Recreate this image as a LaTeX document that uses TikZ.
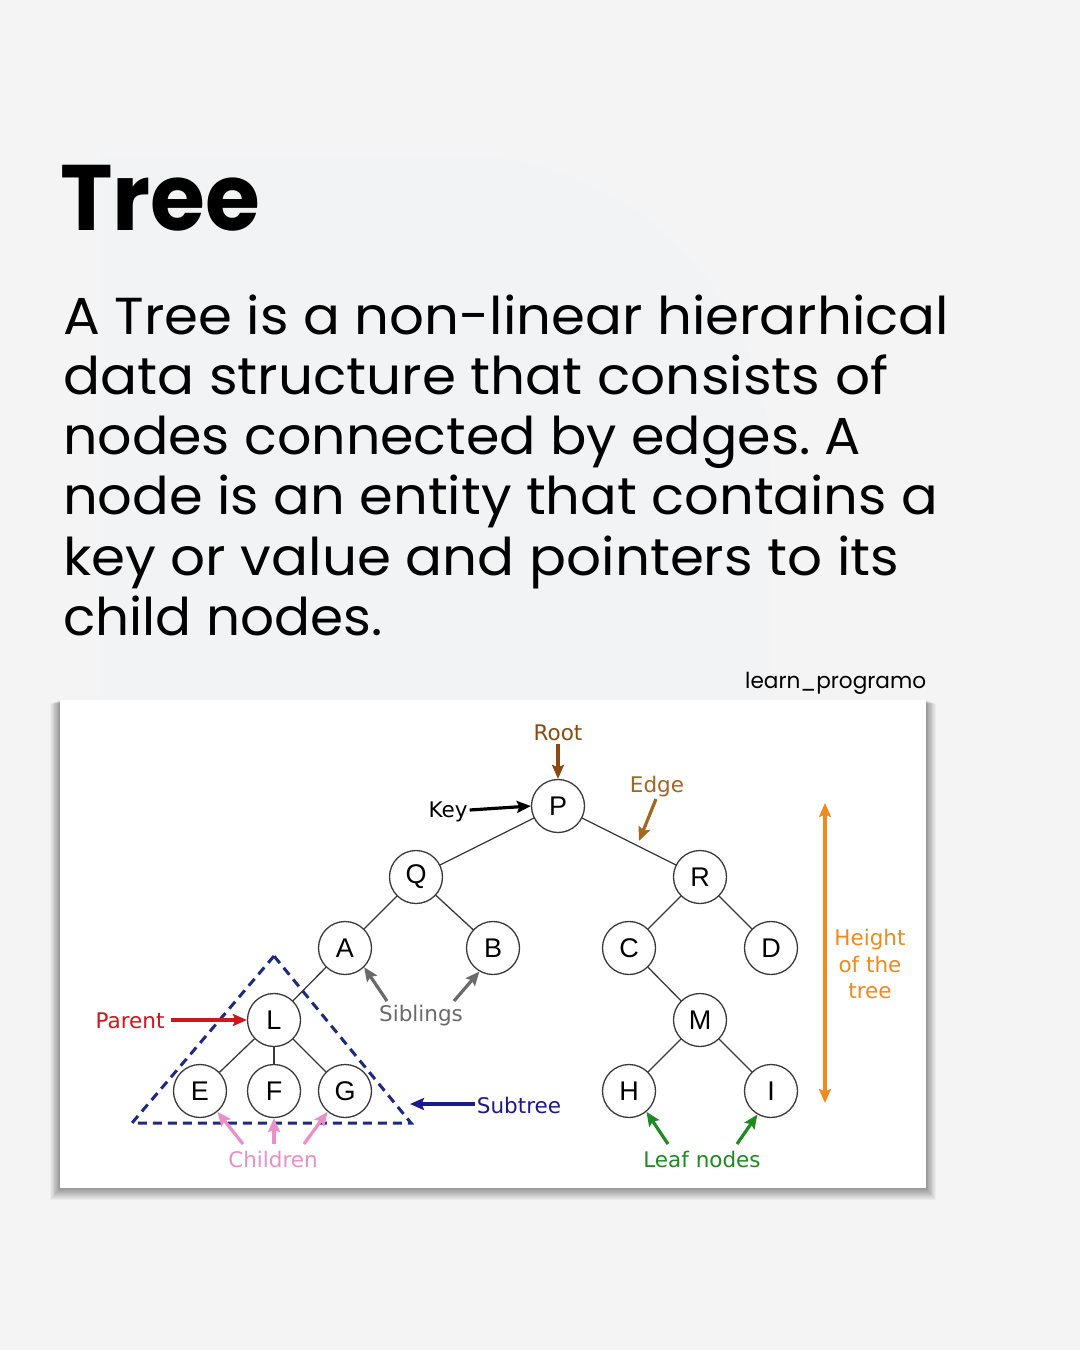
\documentclass[tikz,border=0pt]{standalone}
\usepackage{fontspec}
\setmainfont{Poppins}
\newfontfamily\lblfont{DejaVu Sans}
\newfontfamily\keyfont{Liberation Sans}
\usetikzlibrary{arrows.meta}
\definecolor{bgc}{HTML}{F4F4F4}
\definecolor{wmc}{HTML}{F2F3F5}
\definecolor{rootc}{HTML}{8B4A12}
\definecolor{edgec}{HTML}{A4651F}
\definecolor{heightc}{HTML}{EE8A1E}
\definecolor{parentc}{HTML}{D0161C}
\definecolor{subc}{HTML}{1A1A8E}
\definecolor{triac}{HTML}{1E2A80}
\definecolor{childc}{HTML}{EB8FC8}
\definecolor{leafc}{HTML}{1F8A22}
\definecolor{sibc}{HTML}{6A6A6A}
\definecolor{linec}{HTML}{3A3A3A}
\newlength\fitlen
\newcommand\fitto[2]{\settowidth\fitlen{#2}\pgfmathsetmacro\fitfac{#1/\fitlen}\scalebox{\fitfac}[1]{#2}}
\frenchspacing
\begin{document}
\begin{tikzpicture}[x=1pt,y=-1pt,
  tnode/.style={circle,draw=linec,line width=1.3pt,fill=white,minimum size=53pt,inner sep=0pt,font=\keyfont\fontsize{27}{27}\selectfont},
  tedge/.style={draw=linec,line width=1.3pt},
  lbl/.style={inner sep=0pt,font=\lblfont\fontsize{21.5}{26}\selectfont},
  arr/.style={line width=3.2pt,-{Stealth[length=14pt,width=12pt,inset=2.5pt]}},
  bodyline/.style={anchor=base west,inner sep=0pt,font=\fontsize{52}{60}\selectfont}]
\useasboundingbox (0,0) rectangle (1080,1350);
\fill[bgc] (0,0) rectangle (1080,1350);
% faint watermark
\fill[wmc] (100,155) -- (450,155) .. controls (640,155) and (770,300) .. (770,470) -- (770,700) -- (100,700) -- cycle;
% title and body
\node[anchor=base west,inner sep=0pt,font=\bfseries\fontsize{93}{93}\selectfont] (title) at (60,230) {\fitto{200}{Tree}};
\node[bodyline] (b1) at (63,334) {\fitto{886}{A Tree is a non-linear hierarhical}};
\node[bodyline] (b2) at (63,394) {\fitto{825}{data structure that consists of}};
\node[bodyline] (b3) at (63,454) {\fitto{798}{nodes connected by edges. A}};
\node[bodyline] (b4) at (63,514) {\fitto{875}{node is an entity that contains a}};
\node[bodyline] (b5) at (63,575) {\fitto{836}{key or value and pointers to its}};
\node[bodyline] (b6) at (63,635) {\fitto{319}{child nodes.}};
\node[anchor=base west,inner sep=0pt,font=\fontsize{22}{22}\selectfont] (brand) at (745,688) {\fitto{181}{learn\_programo}};
% panel shadow
\foreach \k in {1,...,12}{
  \fill[black,opacity=0.035] (60-\k*0.8,700+\k*0.3) rectangle (926+\k*0.8,1188+\k);
}
\fill[white] (60,700) rectangle (926,1188);
% tree nodes
\node[tnode] (P) at (558,806) {P};
\node[tnode] (Q) at (416,877) {Q};
\node[tnode] (R) at (700,877) {R};
\node[tnode] (A) at (345,948) {A};
\node[tnode] (B) at (493,948) {B};
\node[tnode] (C) at (629,948) {C};
\node[tnode] (D) at (771,948) {D};
\node[tnode] (L) at (274,1020) {L};
\node[tnode] (M) at (700,1020) {M};
\node[tnode] (E) at (200,1091) {E};
\node[tnode] (F) at (274,1091) {F};
\node[tnode] (G) at (345,1091) {G};
\node[tnode] (H) at (629,1091) {H};
\node[tnode] (I) at (771,1091) {I};
\foreach \a/\b in {P/Q,P/R,Q/A,Q/B,R/C,R/D,A/L,C/M,L/E,L/F,L/G,M/H,M/I}
  \draw[tedge] (\a) -- (\b);
% subtree triangle
\coordinate (t1) at (274,956);
\coordinate (t2) at (132,1123);
\coordinate (t3) at (411,1123);
\draw[triac,line width=3pt,dash pattern=on 9pt off 6pt] (t1) -- (t2) -- (t3) -- cycle;
% labels
\node[lbl,text=rootc] (root) at (558,733) {Root};
\draw[arr,rootc] (root.south) ++(0,3) coordinate (rs) (rs) -- (P.north);
\node[lbl,text=black] (key) at (448,812) {Key};
\draw[arr,black] (key.east) ++(2,-2) coordinate (ks) (ks) -- (P.west);
\node[lbl,text=edgec] (edge) at (657,787) {Edge};
\coordinate (ee) at (639,841);
\draw[arr,edgec] (656,799) -- (ee);
\node[lbl,text=sibc] (sib) at (421,1016) {Siblings};
\coordinate (s1) at (387,1001);
\coordinate (s2) at (454,1001);
\draw[arr,sibc] (s1) -- (A.-45);
\draw[arr,sibc] (s2) -- (B.-120);
\node[lbl,text=parentc] (par) at (130,1021) {Parent};
\draw[arr,parentc] (par.east) ++(6,-1) coordinate (ps) (ps) -- (L.west);
\node[lbl,text=subc] (sub) at (519,1105) {Subtree};
\coordinate (se) at (410,1104);
\draw[arr,subc] (sub.west) ++(-2,-1) coordinate (ss) (ss) -- (se);
\node[lbl,text=childc] (chi) at (273,1159) {Children};
\coordinate (c1) at (243,1144);
\coordinate (c2) at (274,1144);
\coordinate (c3) at (304,1144);
\draw[arr,childc] (c1) -- (E.-50);
\draw[arr,childc] (c2) -- (F.south);
\draw[arr,childc] (c3) -- (G.-130);
\node[lbl,text=leafc] (leaf) at (702,1159) {Leaf nodes};
\coordinate (l1) at (668,1144);
\coordinate (l2) at (737,1144);
\draw[arr,leafc] (l1) -- (H.-50);
\draw[arr,leafc] (l2) -- (I.-120);
\coordinate (h1) at (825,803);
\coordinate (h2) at (825,1103);
\draw[heightc,line width=3.2pt,{Stealth[length=14pt,width=12pt,inset=2.5pt]}-{Stealth[length=14pt,width=12pt,inset=2.5pt]}] (h1) -- (h2);
\node[lbl,text=heightc,align=center,font=\lblfont\fontsize{21.5}{26.5}\selectfont] (ht) at (870,964) {Height\\of the\\tree};
\end{tikzpicture}
\end{document}
